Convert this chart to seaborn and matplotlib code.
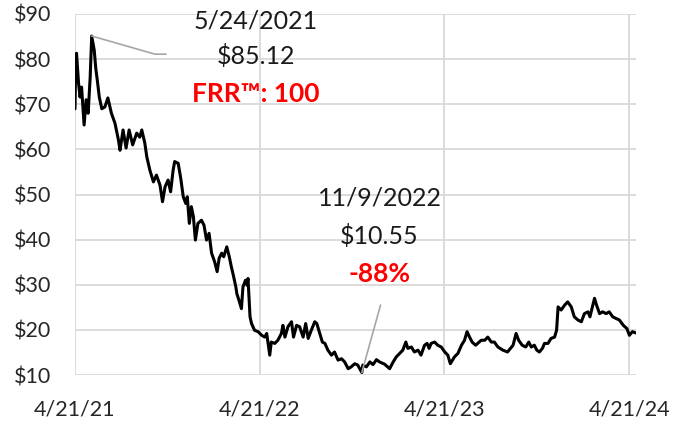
import pandas as pd
import matplotlib.pyplot as plt
import seaborn as sns

start = pd.Timestamp("2021-04-21")

# days after 4/21/21 and closing price
day_offset = [0, 1, 3, 7, 10, 13, 18, 22, 26, 30, 33, 38, 41, 44, 48, 53, 59, 65, 72, 79,
              86, 89, 95, 101, 107, 114, 122, 128, 132, 138, 142, 148, 155, 161, 168, 173, 178, 184, 189, 194,
              197, 204, 209, 214, 219, 222, 226, 230, 234, 238, 243, 250, 255, 260, 265, 270, 276, 281, 285, 290,
              294, 300, 305, 309, 313, 318, 320, 324, 329, 332, 337, 340, 342, 344, 346, 349, 355, 362, 369, 375,
              379, 385, 388, 395, 401, 408, 411, 415, 421, 428, 432, 438, 444, 451, 456, 461, 467, 474, 478, 484,
              489, 494, 500, 507, 513, 520, 527, 533, 540, 546, 553, 559, 567, 569, 576, 583, 589, 596, 602, 612,
              622, 629, 635, 642, 648, 654, 658, 665, 671, 678, 684, 691, 696, 700, 704, 711, 717, 724, 731, 737,
              742, 750, 757, 764, 770, 775, 780, 785, 792, 796, 803, 810, 816, 823, 829, 836, 846, 855, 866, 872,
              877, 884, 891, 897, 902, 908, 913, 918, 924, 928, 935, 941, 948, 952, 955, 961, 968, 974, 981, 987,
              994, 1001, 1007, 1014, 1018, 1027, 1031, 1037, 1043, 1050, 1056, 1063, 1070, 1076, 1084, 1091, 1096, 1102, 1109]
price = [69.0, 76.0, 81.3, 74.7, 71.6, 73.8, 65.4, 71.0, 68.0, 76.0, 85.12, 82.0, 78.0, 75.4, 71.6, 69.0, 69.4, 71.4, 68.0, 65.8,
         62.0, 59.8, 64.3, 60.3, 64.3, 61.0, 63.6, 62.7, 64.3, 61.4, 58.3, 55.4, 52.8, 54.3, 52.1, 48.4, 51.7, 53.2, 50.6, 55.4,
         57.3, 56.9, 53.6, 49.5, 48.0, 49.5, 43.6, 47.3, 45.1, 39.9, 43.6, 44.3, 43.2, 39.9, 41.4, 37.0, 35.1, 32.9, 35.9, 37.0,
         36.2, 38.4, 36.2, 34.0, 32.1, 29.5, 28.0, 26.6, 24.7, 29.5, 31.0, 29.9, 31.4, 27.0, 22.9, 21.4, 19.9, 19.6, 18.8, 18.4,
         19.2, 14.4, 17.3, 17.0, 17.7, 19.2, 21.0, 18.4, 20.7, 21.8, 18.4, 21.0, 20.7, 18.4, 21.4, 18.1, 19.9, 21.8, 21.4, 19.2,
         17.3, 17.0, 15.5, 14.4, 15.1, 13.3, 13.6, 12.9, 11.4, 11.8, 12.5, 12.2, 10.55, 12.2, 11.8, 12.9, 12.3, 13.4, 12.9, 12.4,
         11.4, 12.9, 14.0, 14.8, 15.5, 17.3, 15.9, 16.2, 15.1, 15.5, 14.4, 16.6, 17.0, 15.9, 17.0, 17.3, 16.6, 16.2, 15.1, 14.4,
         12.5, 14.0, 14.8, 16.6, 17.7, 19.6, 18.4, 17.3, 16.6, 17.0, 17.7, 17.7, 18.4, 17.3, 17.3, 16.2, 15.5, 15.1, 16.6, 19.2,
         17.7, 16.6, 16.2, 17.3, 16.2, 16.6, 15.5, 15.1, 15.9, 17.0, 17.0, 18.1, 18.4, 19.9, 25.1, 24.4, 25.5, 26.2, 25.1, 22.9,
         22.2, 21.8, 23.6, 24.0, 22.9, 27.0, 25.5, 23.6, 24.0, 23.6, 24.0, 22.9, 22.5, 22.2, 21.0, 20.3, 18.8, 19.6, 19.3]

yticks = [10, 20, 30, 40, 50, 60, 70, 80, 90]
xtick_dates = ["2021-04-21", "2022-04-21", "2023-04-21", "2024-04-21"]
xtick_labels = ["4/21/21", "4/21/22", "4/21/23", "4/21/24"]

df = pd.DataFrame({"Date": start + pd.to_timedelta(day_offset, unit="D"), "Price": price})

sns.set_style("white")
plt.rcParams['font.family'] = ['Lato', 'DejaVu Sans']

fig = plt.figure(figsize=(6.86, 4.25), dpi=100)
ax = fig.add_axes([75 / 686, 1 - 375 / 425, (636 - 75) / 686, (375 - 14) / 425])
sns.lineplot(data=df, x="Date", y="Price", color="black", linewidth=2.2, ax=ax)

ax.set_ylim(10, 90)
ax.set_xlim(start, start + pd.Timedelta(days=1109))
ax.set_yticks(yticks)
ax.set_yticklabels([f"${v}" for v in yticks])
ax.set_xticks(pd.to_datetime(xtick_dates))
ax.set_xticklabels(xtick_labels)
ax.set_xlabel("")
ax.set_ylabel("")
ax.set_axisbelow(True)
ax.grid(True, color="#d9d9d9", linewidth=1.3)
ax.tick_params(axis="x", length=7, width=1.3, color="#d9d9d9", pad=11, labelsize=15.5)
ax.tick_params(axis="y", length=0, pad=17, labelsize=15.5)
for s in ax.spines.values():
    s.set_visible(False)

# peak and trough callouts
hi = df.loc[df.Price.idxmax()]
lo = df.loc[df.Price.idxmin()]
d = lambda n: start + pd.Timedelta(days=n)
fmt = lambda t: f"{t.month}/{t.day}/{t.year}"
drop = round((lo.Price / hi.Price - 1) * 100)

ax.plot([hi.Date, d(158), d(180)], [hi.Price, 81.1, 81.1], color="#a6a6a6", linewidth=1.2)
ax.plot([lo.Date, d(604)], [lo.Price, 25.5], color="#a6a6a6", linewidth=1.2)

ax.text(d(357), 88.4, fmt(hi.Date), ha="center", va="center", fontsize=18, color="#1a1a1a")
ax.text(d(357), 80.6, f"${hi.Price:.2f}", ha="center", va="center", fontsize=18, color="#1a1a1a")
ax.text(d(357), 72.2, "FRR™: 100", ha="center", va="center", fontsize=19, color="red", fontweight="bold")
ax.text(d(602), 49.2, fmt(lo.Date), ha="center", va="center", fontsize=18, color="#1a1a1a")
ax.text(d(602), 40.8, f"${lo.Price:.2f}", ha="center", va="center", fontsize=18, color="#1a1a1a")
ax.text(d(602), 32.4, f"{drop}%", ha="center", va="center", fontsize=19, color="red", fontweight="bold")

plt.savefig("out.png", dpi=100)
